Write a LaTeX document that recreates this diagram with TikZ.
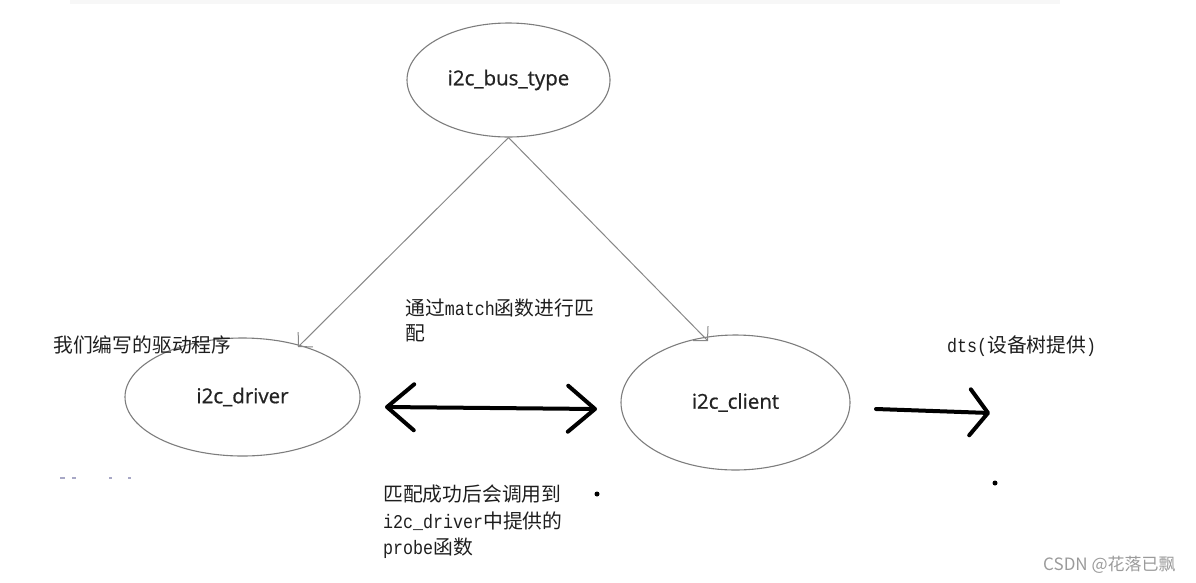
\documentclass[tikz,border=0pt]{standalone}
\usepackage{fontspec}
\usetikzlibrary{shapes.geometric,arrows.meta}
\newfontfamily\cjk{Noto Sans CJK SC}
\newfontfamily\mono[FakeStretch=0.855]{Liberation Mono}
\newfontfamily\lab[FakeBold=0.8]{Open Sans}
\newcommand\mt[1]{{\mono\fontsize{19.5}{24}\selectfont #1}}
\definecolor{ellc}{RGB}{125,125,125}
\definecolor{linec}{RGB}{135,135,135}
\definecolor{labc}{RGB}{35,35,35}
\definecolor{txtc}{RGB}{30,30,30}
\definecolor{wmc}{RGB}{155,155,155}
\definecolor{bandc}{RGB}{247,247,247}
\definecolor{specc}{RGB}{110,110,160}
\tikzset{
  ell/.style={ellipse, draw=ellc, line width=1.1pt, inner sep=0pt, font=\lab\fontsize{20.5}{24}\selectfont, text=labc},
  thinarrow/.style={draw=linec, line width=1pt, -{Straight Barb[length=10pt,width=21pt]}},
  cjktext/.style={anchor=base west, inner sep=0pt, font=\cjk\fontsize{19.8}{24}\selectfont, text=txtc},
  bigline/.style={line width=4pt, line cap=round, line join=round, draw=black},
  dotmark/.style={circle, fill=black, inner sep=0pt, minimum size=5pt},
  speck/.style={draw=specc, line width=1.2pt, opacity=0.6}
}
\begin{document}
\begin{tikzpicture}[x=1pt,y=-1pt]
\useasboundingbox (0,0) rectangle (1196,582);
\fill[bandc] (70,0) rectangle (1060,4);

% ellipses
\node[ell, minimum width=203pt, minimum height=114pt] (bus) at (508.5,80) {i2c\_bus\_type};
\node[ell, minimum width=235pt, minimum height=118pt] (drv) at (242.5,397) {i2c\_driver};
\node[ell, minimum width=229pt, minimum height=135pt] (cl) at (735.5,402.5) {i2c\_client};

% thin connectors
\coordinate (drvtip) at (298,347);
\coordinate (cltip) at (708,341);
\draw[thinarrow] (bus.south) -- (drvtip);
\draw[thinarrow] (bus.south) -- (cltip);

% big double arrow
\coordinate (dl) at (385,407);
\coordinate (dr) at (597,409);
\draw[bigline, {Straight Barb[length=27pt,width=46pt,line cap=round,line join=round]}-{Straight Barb[length=27pt,width=46pt,line cap=round,line join=round]}] (dl) -- (dr);

% right arrow
\coordinate (rs) at (876,409);
\coordinate (re) at (990,413);
\draw[bigline, -{Straight Barb[length=18pt,width=46pt,line cap=round,line join=round]}] (rs) -- (re);

% dots
\node[dotmark] (d1) at (597,494) {};
\node[dotmark] (d2) at (995,483) {};

% texts
\node[cjktext] (t1) at (53,352) {我们编写的驱动程序};
\node[cjktext] (t2) at (405,315.5) {通过\mt{match}函数进行匹};
\node[cjktext] (t3) at (405,340.5) {配};
\node[cjktext] (t4) at (383,501.5) {匹配成功后会调用到};
\node[cjktext] (t5) at (383,528.5) {\mt{i2c\_driver}中提供的};
\node[cjktext] (t6) at (383,554.5) {\mt{probe}函数};
\node[cjktext] (t7) at (947,352.5) {\mt{dts(}设备树提供\mt{)}};

% faint specks
\draw[speck] (60,478) -- (65,478);
\draw[speck] (72,478) -- (76,478);
\draw[speck] (109,478) -- (112,478);
\draw[speck] (128,478) -- (131,478);

% watermark
\node[anchor=base west, inner sep=0pt, font=\cjk\fontsize{17}{20}\selectfont, text=wmc] (wm) at (1043,570) {CSDN @花落已飘};
\end{tikzpicture}
\end{document}
